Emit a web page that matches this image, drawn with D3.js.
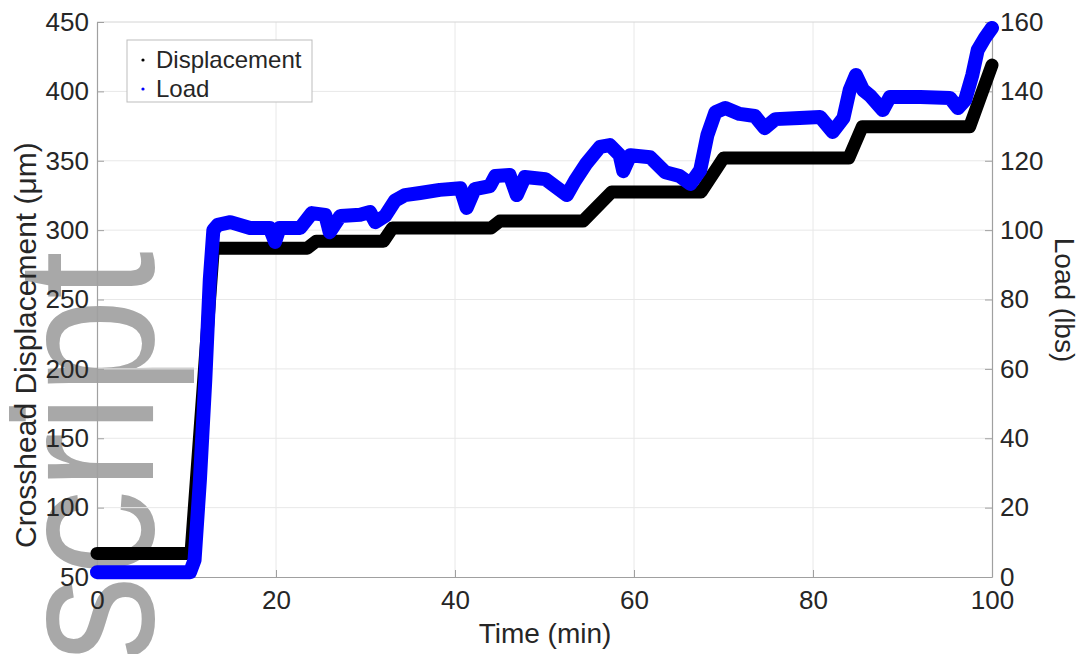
<!DOCTYPE html>
<html>
<head>
<meta charset="utf-8">
<script src="https://cdn.jsdelivr.net/npm/d3@7"></script>
<style>
  html, body { margin: 0; padding: 0; background: #ffffff; }
  svg { display: block; }
</style>
</head>
<body>
<script>
// ---- data ----
const xTicks = [0, 20, 40, 60, 80, 100];
const yLeftTicks = [50, 100, 150, 200, 250, 300, 350, 400, 450];
const yRightTicks = [0, 20, 40, 60, 80, 100, 120, 140, 160];

const dispTime   = [0, 10.5, 13, 23.5, 24.5, 32, 33, 44, 45, 54.3, 57.5, 67.5, 70, 84, 85.5, 97.5, 100];
const dispValues = [67, 67, 287, 287, 292, 292, 301.5, 301.5, 306.5, 306.5, 327.5, 327.5, 352, 352, 374.5, 374.5, 419];

const loadTime = [0, 10.4, 10.9, 11.5, 12.1, 12.6, 13.0, 13.5, 14.9, 17.1, 19.3, 19.9, 20.4, 22.7, 24.0, 25.5, 26.0, 27.2, 29.4, 30.5,
  31.1, 32.2, 33.3, 34.4, 36.1, 38.3, 40.6, 41.3, 42.2, 43.9, 44.5, 46.1, 46.9, 47.8, 50.1, 52.5, 53.4, 54.7, 56.2, 57.3,
  58.4, 58.8, 59.6, 61.8, 63.5, 65.1, 66.3, 67.4, 68.2, 69.1, 70.2, 71.8, 73.5, 74.6, 75.8, 78.5, 80.8, 82.2, 83.4, 84.1,
  84.8, 85.6, 86.4, 87.8, 88.6, 92.0, 95.3, 96.2, 97.0, 97.8, 98.4, 99.2, 100];
const loadValues = [1.4, 1.4, 4.9, 28, 56.8, 85.6, 100, 101.5, 102.3, 100.6, 100.6, 96.6, 100.6, 100.6, 104.9, 104.4, 99.4, 104.1, 104.4, 105.2,
  102.3, 104.1, 108.5, 110.1, 110.7, 111.6, 112.1, 106.4, 111.8, 112.7, 115.6, 115.9, 110.1, 115.3, 114.7, 110.1, 114.2, 119.3, 124, 124.5,
  121.6, 117, 121.6, 121, 116.7, 115.6, 113.3, 117.3, 127.4, 134, 135.2, 133.5, 132.9, 129.4, 132, 132.3, 132.6, 128.3, 132.3, 140.4,
  144.7, 140.4, 138.7, 134.6, 138.4, 138.4, 138.1, 135.2, 137.5, 144.7, 151.9, 155.4, 158.3];

const seriesNames = ["Displacement", "Load"];

// ---- layout ----
const W = 1083, H = 654;
const plot = { left: 97, right: 992, top: 22, bottom: 577 };
const font = "'Liberation Sans', Arial, Helvetica, sans-serif";
const textColor = "#262626";

const svg = d3.select("body").append("svg").attr("width", W).attr("height", H);
svg.append("rect").attr("width", W).attr("height", H).attr("fill", "#ffffff");

const x = d3.scaleLinear().domain([0, 100]).range([plot.left, plot.right]);
const yL = d3.scaleLinear().domain([50, 450]).range([plot.bottom, plot.top]);
const yR = d3.scaleLinear().domain([0, 160]).range([plot.bottom, plot.top]);

// watermark (behind everything)
svg.append("text")
  .attr("transform", "translate(153,662) scale(1.15,1) rotate(-90)")
  .attr("font-family", font)
  .attr("font-size", 172)
  .attr("fill", "#a8a8a8")
  .text("script");

// grid
const grid = svg.append("g").attr("stroke", "#e8e8e8").attr("stroke-width", 1);
grid.selectAll("line.v").data(xTicks.slice(1, -1)).join("line")
  .attr("x1", d => x(d)).attr("x2", d => x(d))
  .attr("y1", plot.top).attr("y2", plot.bottom);
grid.selectAll("line.h").data(yLeftTicks.slice(1, -1)).join("line")
  .attr("y1", d => yL(d)).attr("y2", d => yL(d))
  .attr("x1", plot.left).attr("x2", plot.right);

// box top line
svg.append("line").attr("x1", plot.left).attr("x2", plot.right)
  .attr("y1", plot.top).attr("y2", plot.top)
  .attr("stroke", "#d4d4d4").attr("stroke-width", 1);

function styleAxis(g) {
  g.selectAll("path.domain").attr("stroke", "#a0a0a0").attr("stroke-width", 1.2);
  g.selectAll(".tick line").attr("stroke", "#a0a0a0");
  g.selectAll(".tick text").attr("font-family", font).attr("font-size", 26).attr("fill", textColor);
}

const gx = svg.append("g").attr("transform", `translate(0,${plot.bottom})`)
  .call(d3.axisBottom(x).tickValues(xTicks).tickFormat(d3.format("d")).tickSize(-7).tickSizeOuter(0).tickPadding(14));
styleAxis(gx);

const gl = svg.append("g").attr("transform", `translate(${plot.left},0)`)
  .call(d3.axisLeft(yL).tickValues(yLeftTicks).tickFormat(d3.format("d")).tickSize(-7).tickSizeOuter(0).tickPadding(8));
styleAxis(gl);

const gr = svg.append("g").attr("transform", `translate(${plot.right},0)`)
  .call(d3.axisRight(yR).tickValues(yRightTicks).tickFormat(d3.format("d")).tickSize(-7).tickSizeOuter(0).tickPadding(8));
styleAxis(gr);

// axis labels
svg.append("text").attr("x", 545).attr("y", 643).attr("text-anchor", "middle")
  .attr("font-family", font).attr("font-size", 28).attr("fill", textColor).text("Time (min)");

svg.append("text").attr("transform", "translate(36,548) rotate(-90)").attr("text-anchor", "start")
  .attr("font-family", font).attr("font-size", 30).attr("fill", textColor)
  .text("Crosshead Displacement (\u03BCm)");

svg.append("text").attr("transform", "translate(1055,300) rotate(90)").attr("text-anchor", "middle")
  .attr("font-family", font).attr("font-size", 28).attr("fill", textColor).text("Load (lbs)");

// data lines
const dispData = d3.zip(dispTime, dispValues);
const loadData = d3.zip(loadTime, loadValues);

const lineL = d3.line().x(d => x(d[0])).y(d => yL(d[1]));
const lineR = d3.line().x(d => x(d[0])).y(d => yR(d[1]));

svg.append("path").datum(dispData).attr("d", lineL)
  .attr("fill", "none").attr("stroke", "#000000").attr("stroke-width", 13)
  .attr("stroke-linejoin", "round").attr("stroke-linecap", "round");

svg.append("path").datum(loadData).attr("d", lineR)
  .attr("fill", "none").attr("stroke", "#0000ff").attr("stroke-width", 14)
  .attr("stroke-linejoin", "round").attr("stroke-linecap", "round");

// legend
const leg = svg.append("g");
leg.append("rect").attr("x", 127).attr("y", 40).attr("width", 185).attr("height", 62)
  .attr("fill", "#ffffff").attr("stroke", "#bdbdbd").attr("stroke-width", 1);
const legColors = ["#000000", "#0000ff"];
seriesNames.forEach((name, i) => {
  const cy = 60 + i * 29;
  leg.append("circle").attr("cx", 143).attr("cy", cy).attr("r", 1.6).attr("fill", legColors[i]);
  leg.append("text").attr("x", 156).attr("y", cy).attr("dy", "0.35em")
    .attr("font-family", font).attr("font-size", 24).attr("fill", textColor).text(name);
});
</script>
</body>
</html>
